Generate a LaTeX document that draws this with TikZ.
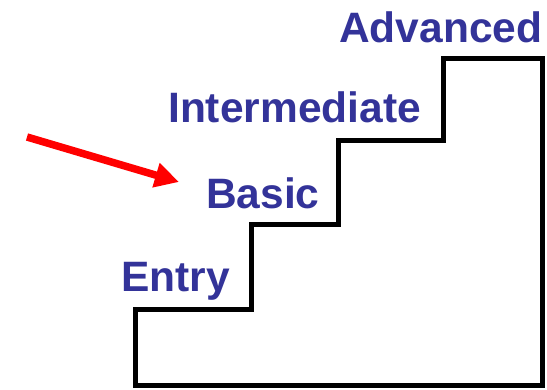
\documentclass[tikz,border=0pt]{standalone}
\usepackage{fontspec}
\setmainfont{Liberation Sans}
\usetikzlibrary{arrows.meta}
\definecolor{levelblue}{RGB}{51,51,153}
\definecolor{pointred}{RGB}{255,0,0}
\tikzstyle{level}=[anchor=base west,inner sep=0pt,text=levelblue,font=\fontsize{42.5}{42.5}\selectfont\bfseries]
\tikzstyle{stairs}=[draw,line width=5pt,line join=miter]
\tikzstyle{pointer}=[draw=pointred,line width=7.5pt,-{Triangle[length=24pt,width=24pt]}]

\begin{document}
\begin{tikzpicture}[x=1pt,y=-1pt]
        \useasboundingbox (0,0) rectangle (547,389);
        \fill[white] (0,0) rectangle (547,389);
        \node[level] (entry) at (121,291) {Entry};
        \node[level] (basic) at (206,208) {Basic};
        \node[level] (intermediate) at (168,122.5) {Intermediate};
        \node[level] (advanced) at (339,42) {Advanced};
        \path[stairs] (135.5,385.5) -- (135.5,309) -- (251.5,309) -- (251.5,224.5)
            -- (338,224.5) -- (338,140) -- (443.5,140) -- (443.5,58.5)
            -- (542,58.5) -- (542,385.5) -- cycle;
        \coordinate (tail) at (27,137);
        \coordinate (tip) at (179,182);
        \path[pointer] (tail) -- (tip);
    \end{tikzpicture}
\end{document}
